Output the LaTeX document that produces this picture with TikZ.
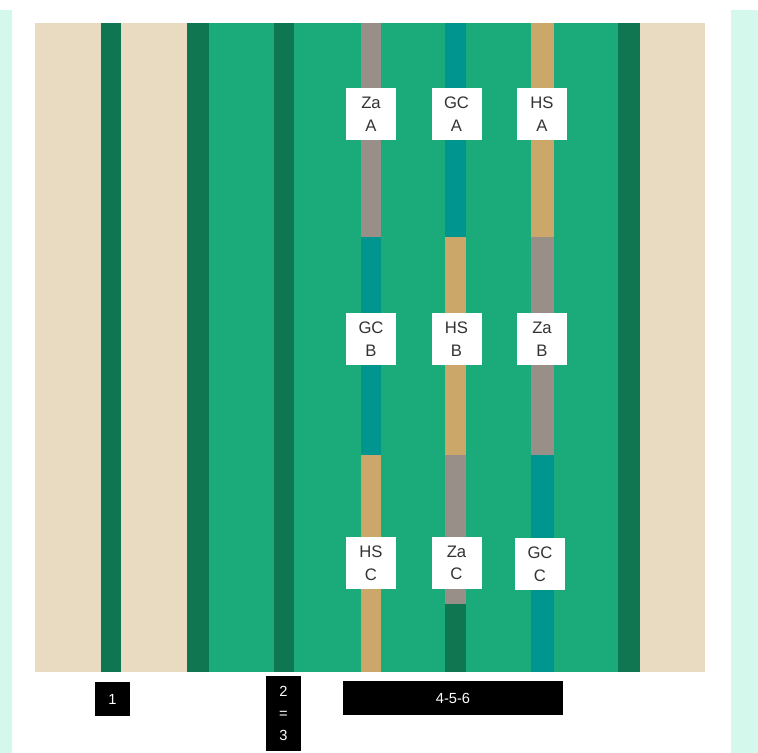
\documentclass[tikz,border=0pt]{standalone}
\usepackage{fontspec}
\setmainfont{Liberation Sans}
\usepackage{xcolor}
\usepackage{tikz}
\usetikzlibrary{positioning}
\definecolor{mintside}{HTML}{D5F8EC}
\definecolor{sandbg}{HTML}{E8DBC1}
\definecolor{fieldgreen}{HTML}{1BAA7A}
\definecolor{darkgreen}{HTML}{107551}
\definecolor{zagrey}{HTML}{988F88}
\definecolor{gcteal}{HTML}{00958F}
\definecolor{hstan}{HTML}{CBA86A}

\begin{document}
\begin{tikzpicture}[
    x=0.75pt, y=-0.75pt,
    tag/.style={
        rectangle, fill=white, inner sep=0pt,
        minimum width=37.5pt, minimum height=39pt,
        align=center, font=\fontsize{12.5}{17}\selectfont, text=black!80
    },
    zone/.style={
        rectangle, fill=black, inner sep=0pt,
        align=center, font=\fontsize{11}{16.5}\selectfont, text=white
    },
    za/.style={fill=zagrey},
    gc/.style={fill=gcteal},
    hs/.style={fill=hstan},
    rail/.style={fill=darkgreen}
]
\useasboundingbox (0,0) rectangle (758,753);
\fill[white] (0,0) rectangle (758,753);

% side strips
\fill[mintside] (0,10) rectangle (12,753);
\fill[mintside] (731,10) rectangle (758,753);

% ground
\fill[sandbg] (35,23) rectangle (705,672);
\fill[fieldgreen] (187,23) rectangle (640,672);
\fill[rail] (101,23) rectangle (121,672);
\fill[rail] (187,23) rectangle (209,672);
\fill[rail] (274,23) rectangle (294,672);
\fill[rail] (618,23) rectangle (640,672);

% column 1
\fill[za] (361,23) rectangle (381,237);
\fill[gc] (361,237) rectangle (381,455);
\fill[hs] (361,455) rectangle (381,672);
% column 2
\fill[gc] (445,23) rectangle (466,237);
\fill[hs] (445,237) rectangle (466,455);
\fill[za] (445,455) rectangle (466,604);
\fill[rail] (445,604) rectangle (466,672);
% column 3
\fill[hs] (531,23) rectangle (554,237);
\fill[za] (531,237) rectangle (554,455);
\fill[gc] (531,455) rectangle (554,672);

% labels
\node[tag] (zaA) at (371,114) {Za\\A};
\node[tag] (gcA) at (456.5,114) {GC\\A};
\node[tag] (hsA) at (542,114) {HS\\A};
\node[tag] (gcB) at (371,339) {GC\\B};
\node[tag] (hsB) at (456.5,339) {HS\\B};
\node[tag] (zaB) at (542,339) {Za\\B};
\node[tag] (hsC) at (371,563) {HS\\C};
\node[tag] (zaC) at (456.5,563) {Za\\C};
\node[tag] (gcC) at (540,564) {GC\\C};

% zones
\node[zone, minimum width=26.25pt, minimum height=25.5pt] (zone1) at (112.5,699) {1};
\node[zone, minimum width=26.25pt, minimum height=56pt] (zone23) at (283.5,713.5) {2\\=\\3};
\node[zone, minimum width=165pt, minimum height=25.5pt] (zone456) at (453,698) {4-5-6};
\end{tikzpicture}
\end{document}
